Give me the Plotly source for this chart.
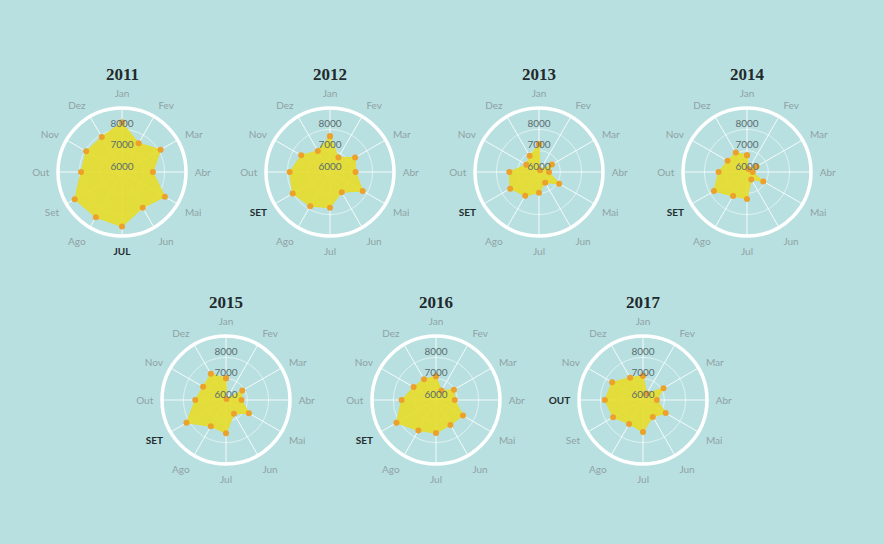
import plotly.graph_objects as go

# monthly values per year
months = ["Jan", "Fev", "Mar", "Abr", "Mai", "Jun", "Jul", "Ago", "Set", "Out", "Nov", "Dez"]
years = ["2011", "2012", "2013", "2014", "2015", "2016", "2017"]

v2011 = [8320, 7560, 8090, 7450, 8320, 7940, 8560, 8450, 8560, 7920, 7940, 7900]
v2012 = [7670, 6790, 7360, 7200, 7770, 7100, 7670, 7850, 8020, 7890, 7560, 7140]
v2013 = [7300, 6100, 6700, 6470, 7090, 6580, 6970, 7290, 7560, 7390, 6690, 6880]
v2014 = [6790, 6150, 6520, 6270, 6880, 6400, 7260, 7300, 7790, 7330, 7050, 7050]
v2015 = [7020, 6050, 6880, 6730, 7240, 6750, 7560, 7420, 8140, 7440, 7240, 7420]
v2016 = [7110, 6510, 6970, 6880, 7460, 7350, 7550, 7650, 8140, 7610, 7210, 7120]
v2017 = [7140, 6350, 7110, 6650, 7230, 6920, 7500, 7300, 7620, 7790, 7670, 7210]

highlight = ["Jul", "Set", "Set", "Set", "Set", "Set", "Out"]  # month shown in caps
grid_vals = [6000, 7000, 8000]

values = [v2011, v2012, v2013, v2014, v2015, v2016, v2017]

# layout geometry (pixels): centre of each circle
W, H = 884, 544
R = 64
centers = [(122, 172), (330, 172), (539, 172), (747, 172),
           (226, 400), (436, 400), (643, 400)]
title_y = [75, 75, 75, 75, 302, 302, 302]

BG = "#b9e0e0"
YELLOW = "#e6dc2c"
ORANGE = "#eca12a"

fig = go.Figure()
layout_polars = {}
annotations = []

for i, (yr, vals) in enumerate(zip(years, values)):
    name = "polar" if i == 0 else "polar%d" % (i + 1)
    cx, cy = centers[i]

    fig.add_trace(go.Scatterpolar(
        r=vals + vals[:1], theta=months + months[:1],
        mode="lines+markers", fill="toself",
        fillcolor="rgba(230,220,44,0.92)",
        line=dict(color=YELLOW, width=1),
        marker=dict(color=ORANGE, size=6),
        subplot=name, showlegend=False, hoverinfo="r+theta"))

    # radial value labels along the Jan spoke
    fig.add_trace(go.Scatterpolar(
        r=grid_vals, theta=["Jan"] * len(grid_vals),
        mode="text", text=[str(g) for g in grid_vals],
        textposition="top center",
        textfont=dict(family="Lato", size=10, color="#5a6c6e"),
        subplot=name, showlegend=False, hoverinfo="skip"))

    ticktext = []
    for m in months:
        if m == highlight[i]:
            ticktext.append('<span style="color:#1f2d2f"><b>%s</b></span>' % m.upper())
        else:
            ticktext.append(m)

    layout_polars[name] = dict(
        domain=dict(x=[(cx - R) / W, (cx + R) / W],
                    y=[(H - cy - R) / H, (H - cy + R) / H]),
        bgcolor="rgba(0,0,0,0)",
        radialaxis=dict(range=[6000, 9000], tickvals=grid_vals,
                        showticklabels=False, ticks="", showline=False,
                        gridcolor="rgba(255,255,255,0.55)", gridwidth=1),
        angularaxis=dict(rotation=90, direction="clockwise",
                         categoryorder="array", categoryarray=months,
                         tickmode="array", tickvals=months, ticktext=ticktext,
                         linecolor="white", linewidth=3.5,
                         gridcolor="rgba(255,255,255,0.85)", gridwidth=1,
                         ticks="outside", ticklen=5, tickcolor="rgba(0,0,0,0)",
                         tickfont=dict(family="Lato", size=10, color="#8ea2a4")),
    )

    annotations.append(dict(
        x=cx / W, y=(H - title_y[i]) / H, xref="paper", yref="paper",
        text="<b>%s</b>" % yr, showarrow=False,
        font=dict(family="Liberation Serif", size=17, color="#1f2a2c"),
        xanchor="center", yanchor="middle"))

fig.update_layout(
    width=W, height=H,
    paper_bgcolor=BG, plot_bgcolor=BG,
    margin=dict(l=0, r=0, t=0, b=0),
    annotations=annotations,
    **layout_polars)

# drop the page's default body margin so the figure fills the window
fig.write_html("out.html",
               config={"displayModeBar": False},
               post_script="document.body.style.margin='0';"
                           "document.body.style.overflow='hidden';")
